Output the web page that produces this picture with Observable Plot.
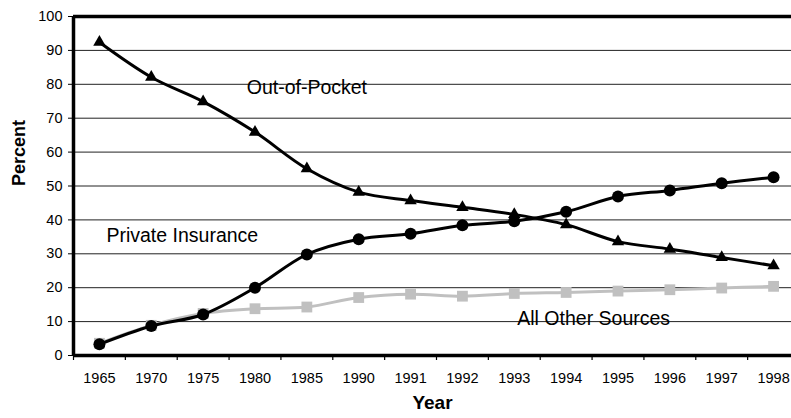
<!DOCTYPE html>
<html><head><meta charset="utf-8">
<script src="https://cdn.jsdelivr.net/npm/d3@7"></script>
<script src="https://cdn.jsdelivr.net/npm/@observablehq/plot@0.6"></script>
<style>body{margin:0;background:#fff} #chart svg{display:block}</style>
</head><body><div id="chart"></div>
<script>
const years = ["1965","1970","1975","1980","1985","1990","1991","1992","1993","1994","1995","1996","1997","1998"];
const outOfPocket = [92.4, 82.1, 74.9, 65.9, 55.1, 48.2, 45.7, 43.7, 41.6, 38.6, 33.6, 31.4, 28.9, 26.5];
const privateInsurance = [3.3, 8.7, 12.1, 20.0, 29.8, 34.3, 35.9, 38.4, 39.6, 42.4, 46.9, 48.7, 50.8, 52.6];
const allOtherSources = [3.6, 8.9, 12.4, 13.8, 14.3, 17.1, 18.1, 17.5, 18.3, 18.6, 19.0, 19.4, 19.9, 20.4];
const yTicks = [0,10,20,30,40,50,60,70,80,90,100];
const labelTexts = ["Out-of-Pocket", "Private Insurance", "All Other Sources"];
const labelYears = ["1985", "1965", "1993"];
const labelValues = [79, 35.3, 10.7];
const labelAnchors = ["middle", "start", "start"];
const labelDx = [0, 7, 3];

const W = 791, H = 418, mL = 73, mT = 16, mB = 63;
const xRange = [mL, 799];
const step = (xRange[1] - xRange[0]) / years.length;

const rows = (vals) => years.map((y, i) => ({year: y, value: vals[i]}));
const oop = rows(outOfPocket), pri = rows(privateInsurance), oth = rows(allOtherSources);
const labels = labelTexts.map((t, i) => ({text: t, year: labelYears[i], value: labelValues[i], anchor: labelAnchors[i], dx: labelDx[i]}));

const font = "'Liberation Sans', Arial, Helvetica, sans-serif";

const labelMarks = labels.map(d => Plot.text([d], {x: "year", y: "value", text: "text", textAnchor: d.anchor, dx: d.dx, fontSize: 19.5, fill: "#000"}));

const chart = Plot.plot({
  width: W, height: H,
  marginLeft: mL, marginTop: mT, marginBottom: mB, marginRight: 0,
  style: {fontFamily: font, fontSize: "14.5px", color: "#000", background: "#fff"},
  x: {type: "point", domain: years, range: xRange, padding: 0.5, round: false},
  y: {domain: [0, 100], range: [H - mB, mT]},
  marks: [
    Plot.gridY(yTicks.filter(d => d > 0 && d < 100), {stroke: "#222", strokeOpacity: 1, strokeWidth: 1}),
    Plot.axisY(yTicks, {tickSize: 5, tickPadding: 6, label: null, fontSize: 14.5, stroke: "#000"}),
    Plot.axisX({tickSize: 0, tickPadding: 17, label: null, fontSize: 14.5}),
    Plot.ruleX(years, {dx: -step / 2, y1: 0, y2: 0, insetBottom: -5, stroke: "#000", strokeWidth: 1.2}),
    Plot.ruleX([years[years.length - 1]], {dx: step / 2, y1: 0, y2: 0, insetBottom: -5, stroke: "#000", strokeWidth: 1.2}),
    // gray series
    Plot.line(oth, {x: "year", y: "value", stroke: "#c0c0c0", strokeWidth: 3, curve: "catmull-rom"}),
    Plot.dot(oth, {x: "year", y: "value", symbol: "square", r: 6.1, fill: "#c0c0c0", stroke: "none"}),
    // private insurance
    Plot.line(pri, {x: "year", y: "value", stroke: "#000", strokeWidth: 3, curve: "catmull-rom"}),
    Plot.dot(pri, {x: "year", y: "value", symbol: "circle", r: 6, fill: "#000", stroke: "none"}),
    // out of pocket
    Plot.line(oop, {x: "year", y: "value", stroke: "#000", strokeWidth: 3, curve: "catmull-rom"}),
    Plot.dot(oop, {x: "year", y: "value", symbol: "triangle", r: 4.6, fill: "#000", stroke: "none"}),
    // frame lines
    Plot.ruleY([0, 100], {stroke: "#000", strokeWidth: 3.5}),
    Plot.ruleX([years[0]], {dx: -step / 2, stroke: "#000", strokeWidth: 3.5}),
    // series labels
    ...labelMarks,
    // axis titles
    Plot.text(["Percent"], {frameAnchor: "left", dx: -54, rotate: -90, fontSize: 18, fontWeight: "bold", fill: "#000"}),
    Plot.text(["Year"], {frameAnchor: "bottom", dy: 53, fontSize: 19, fontWeight: "bold", fill: "#000"})
  ]
});
document.getElementById("chart").appendChild(chart);
</script>
</body></html>
